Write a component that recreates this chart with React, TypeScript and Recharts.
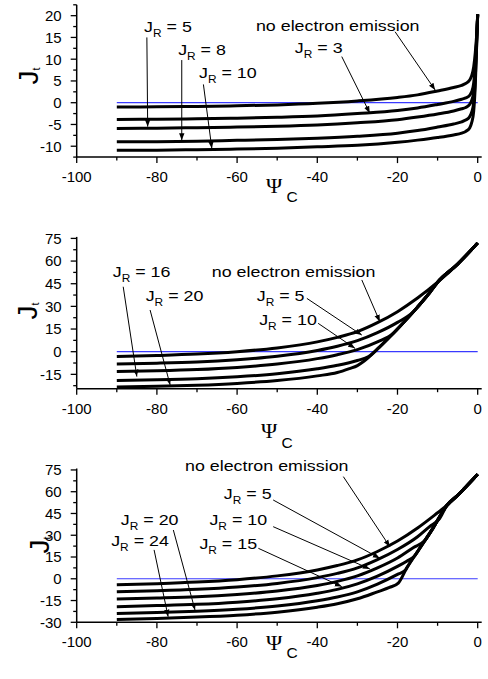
import React from 'react';
import { LineChart, Line, XAxis, YAxis, ReferenceLine } from 'recharts';

type Pt = [number, number];

const SANS = '"Liberation Sans", Arial, sans-serif';
const SERIF = '"Liberation Serif", "Times New Roman", serif';

// ---------- shared x axis ----------
const xDomain: [number, number] = [-100, 1];
const xMajor = [-100, -80, -60, -40, -20, 0];
const xMinor = [-90, -70, -50, -30, -10];
const zeroLine: Pt[] = [[-90, 0], [0, 0]];

// ---------- panel 1 ----------
const p1YMajor = [-10, -5, 0, 5, 10, 15, 20];
const p1YMinor = [-12.5, -7.5, -2.5, 2.5, 7.5, 12.5, 17.5, 22.5];
const p1None: Pt[] = [[-90, -1.0], [-80, -0.95], [-70, -0.85], [-60, -0.7], [-50, -0.5], [-40, -0.15], [-30, 0.4], [-20, 1.2], [-15, 1.8], [-10, 2.7], [-6, 3.5], [-4, 4.0], [-3, 4.4], [-2, 5.2], [-1.5, 6.2], [-1, 8.2], [-0.6, 11.5], [-0.3, 15], [0, 20.3]];
const p1R3: Pt[] = [[-90, -3.85], [-80, -3.8], [-70, -3.7], [-60, -3.55], [-50, -3.35], [-40, -3.05], [-30, -2.5], [-20, -1.8], [-15, -1.2], [-10, -0.4], [-6, 0.3], [-4, 0.8], [-3, 1.1], [-2, 1.7], [-1.5, 2.5], [-1, 4.5], [-0.6, 9], [-0.3, 14], [0, 20.3]];
const p1R5: Pt[] = [[-90, -5.9], [-80, -5.85], [-70, -5.75], [-60, -5.6], [-50, -5.4], [-40, -5.1], [-30, -4.6], [-20, -3.9], [-15, -3.3], [-10, -2.6], [-6, -1.9], [-4, -1.4], [-3, -1.1], [-2, -0.4], [-1.5, 0.5], [-1, 2.5], [-0.6, 7.5], [-0.3, 13.5], [0, 20.3]];
const p1R8: Pt[] = [[-90, -9.0], [-80, -8.95], [-70, -8.85], [-60, -8.65], [-50, -8.45], [-40, -8.15], [-30, -7.7], [-20, -7.0], [-15, -6.4], [-10, -5.6], [-6, -4.9], [-4, -4.4], [-3, -4.0], [-2, -3.2], [-1.5, -2.2], [-1, 0], [-0.6, 5.5], [-0.3, 12.5], [0, 20.3]];
const p1R10: Pt[] = [[-90, -10.95], [-80, -10.9], [-70, -10.8], [-60, -10.65], [-50, -10.45], [-40, -10.15], [-30, -9.8], [-20, -9.1], [-15, -8.6], [-10, -8.0], [-6, -7.4], [-4, -7.0], [-3, -6.6], [-2, -5.8], [-1.5, -4.6], [-1, -2], [-0.6, 4], [-0.3, 12], [0, 20.3]];

// ---------- panel 2 ----------
const p2YMajor = [-15, 0, 15, 30, 45, 60, 75];
const p2YMinor = [-22.5, -7.5, 7.5, 22.5, 37.5, 52.5, 67.5];
const p2None: Pt[] = [[-90, -3.1], [-80, -2.5], [-70, -1.6], [-60, 0], [-50, 2.5], [-40, 6.5], [-35, 9.5], [-30, 13.3], [-25, 19.2], [-20, 26.5], [-15, 35.5], [-10, 46], [-5, 58], [0, 72]];
const p2R5: Pt[] = [[-90, -8.1], [-80, -7.6], [-70, -6.8], [-60, -5.3], [-50, -3], [-40, 0.8], [-35, 3.6], [-30, 7.3], [-25, 12.6], [-20, 19.4], [-16, 26.6], [-15, 29.5], [-12, 39], [-10, 46], [-5, 58], [0, 72]];
const p2R10: Pt[] = [[-90, -13.1], [-80, -12.6], [-70, -11.8], [-60, -10.4], [-50, -8.2], [-40, -4.6], [-35, -2], [-30, 1.4], [-25, 6.5], [-21, 12.3], [-20, 15], [-15, 29.5], [-12, 39], [-10, 46], [-5, 58], [0, 72]];
const p2R16: Pt[] = [[-90, -19], [-80, -18.6], [-70, -17.9], [-60, -16.6], [-50, -14.6], [-40, -11.3], [-35, -9], [-30, -5.8], [-27.2, -3.2], [-24.5, 3], [-20, 15], [-15, 29.5], [-12, 39], [-10, 46], [-5, 58], [0, 72]];
const p2R20: Pt[] = [[-90, -23.3], [-80, -22.9], [-70, -22.2], [-60, -21], [-50, -19.1], [-40, -16], [-35, -13.8], [-32, -11.2], [-30, -9.2], [-28.3, -6.2], [-24.5, 3], [-20, 15], [-15, 29.5], [-12, 39], [-10, 46], [-5, 58], [0, 72]];

// ---------- panel 3 ----------
const p3YMajor = [-30, -15, 0, 15, 30, 45, 60, 75];
const p3YMinor = [-22.5, -7.5, 7.5, 22.5, 37.5, 52.5, 67.5];
const p3None: Pt[] = [[-90, -4.2], [-80, -3.4], [-70, -2.3], [-60, -0.6], [-50, 2], [-40, 6.1], [-35, 9.1], [-30, 13], [-25, 18.8], [-20, 26], [-15, 35], [-10, 45.5], [-7.7, 50.5], [-5, 57.5], [0, 72]];
const p3R5: Pt[] = [[-90, -9], [-80, -8.3], [-70, -7.3], [-60, -5.7], [-50, -3.2], [-40, 0.8], [-35, 3.7], [-30, 7.5], [-25, 13.2], [-20, 20.2], [-15, 29], [-12, 36], [-9.5, 41.5], [-7.7, 50.5], [-5, 57.5], [0, 72]];
const p3R10: Pt[] = [[-90, -14], [-80, -13.3], [-70, -12.4], [-60, -10.8], [-50, -8.4], [-40, -4.6], [-35, -1.8], [-30, 2], [-25, 7.5], [-20, 14.3], [-16, 21.5], [-13.2, 26.3], [-11.1, 35.1], [-7.7, 50.5], [-5, 57.5], [0, 72]];
const p3R15: Pt[] = [[-90, -19.2], [-80, -18.5], [-70, -17.6], [-60, -16.1], [-50, -13.8], [-40, -10], [-35, -7.3], [-30, -3.5], [-25, 1.8], [-20, 8.5], [-17.7, 12.1], [-15.7, 15.8], [-14.4, 21.2], [-11.1, 35.1], [-7.7, 50.5], [-5, 57.5], [0, 72]];
const p3R20: Pt[] = [[-90, -24], [-80, -23.3], [-70, -22.4], [-60, -21], [-50, -18.8], [-40, -15.2], [-35, -12.6], [-30, -9], [-25, -3.7], [-20, 3], [-18, 6], [-17.7, 7.4], [-14.4, 21.2], [-11.1, 35.1], [-7.7, 50.5], [-5, 57.5], [0, 72]];
const p3R24: Pt[] = [[-90, -28], [-80, -27.3], [-70, -26.4], [-60, -25.1], [-50, -23], [-40, -19.6], [-35, -17.2], [-30, -13.8], [-25, -9], [-22, -6], [-19.8, -3], [-17.7, 7.4], [-14.4, 21.2], [-11.1, 35.1], [-7.7, 50.5], [-5, 57.5], [0, 72]];

// ---------- annotations ----------
type Ann = { main: string; sub?: string; rest?: string; at: Pt };
type Arrow = { from: Pt; to: Pt };

const p1Anns: Ann[] = [
  { main: 'J', sub: 'R', rest: ' = 5', at: [-83.2, 16.25] },
  { main: 'J', sub: 'R', rest: ' = 8', at: [-74.7, 10.97] },
  { main: 'J', sub: 'R', rest: ' = 10', at: [-69.5, 5.6] },
  { main: 'no electron emission', at: [-55.3, 16.55] },
  { main: 'J', sub: 'R', rest: ' = 3', at: [-45.6, 11.36] },
];
const p1Arrows: Arrow[] = [
  { from: [-82.5, 15.0], to: [-82.3, -5.5] },
  { from: [-73.8, 9.8], to: [-73.8, -8.6] },
  { from: [-68.4, 4.2], to: [-66.3, -10.5] },
  { from: [-20.6, 16.3], to: [-10.6, 2.9] },
  { from: [-33.9, 10.6], to: [-26.9, -2.4] },
];

const p2Anns: Ann[] = [
  { main: 'J', sub: 'R', rest: ' = 16', at: [-91.0, 49.6] },
  { main: 'J', sub: 'R', rest: ' = 20', at: [-82.8, 33.8] },
  { main: 'no electron emission', at: [-66.3, 49.6] },
  { main: 'J', sub: 'R', rest: ' = 5', at: [-55.1, 33.8] },
  { main: 'J', sub: 'R', rest: ' = 10', at: [-54.5, 17.7] },
];
const p2Arrows: Arrow[] = [
  { from: [-88.4, 43], to: [-85.0, -16.5] },
  { from: [-81.7, 27.6], to: [-76.7, -22] },
  { from: [-28.9, 47.5], to: [-24.4, 19.9] },
  { from: [-42.6, 35.3], to: [-28.9, 11] },
  { from: [-39.8, 18.8], to: [-30.6, 2.2] },
];

const p3Anns: Ann[] = [
  { main: 'no electron emission', at: [-73.0, 74.5] },
  { main: 'J', sub: 'R', rest: ' = 5', at: [-63.3, 55.2] },
  { main: 'J', sub: 'R', rest: ' = 20', at: [-89.0, 37.0] },
  { main: 'J', sub: 'R', rest: ' = 10', at: [-66.9, 37.0] },
  { main: 'J', sub: 'R', rest: ' = 24', at: [-91.4, 22.9] },
  { main: 'J', sub: 'R', rest: ' = 15', at: [-69.4, 20.6] },
];
const p3Arrows: Arrow[] = [
  { from: [-33.5, 70.4], to: [-21.9, 22.1] },
  { from: [-51, 54.3], to: [-24.4, 14.1] },
  { from: [-51, 35.9], to: [-26.9, 6.8] },
  { from: [-54.7, 21], to: [-33.9, -5.4] },
  { from: [-75.9, 33.6], to: [-70.5, -21.5] },
  { from: [-80.7, 19.9], to: [-77.2, -26.1] },
];

const toData = (pts: Pt[]) => pts.map(([x, y]) => ({ x, y }));

// layout constants
const CHART_W = 488;
const Y_AXIS_W = 76.7;
const RIGHT = 6.3;
const X_AXIS_H = 30;

const XTick = (p: any) => {
  const v = p.payload.value;
  const major = xMajor.includes(v);
  return (
    <g>
      <line x1={p.x} x2={p.x} y1={p.y} y2={p.y + (major ? 6 : 3.5)} stroke="#000" strokeWidth={1.3} />
      {major && (
        <text x={p.x} y={p.y + 25} textAnchor="middle" fontSize={15} fontFamily={SANS} fill="#000">
          {v}
        </text>
      )}
    </g>
  );
};

const YTick = (p: any) => {
  const v = p.payload.value;
  const major = (p.majors as number[]).includes(v);
  return (
    <g>
      <line x1={p.x} x2={p.x - (major ? 6 : 3.5)} y1={p.y} y2={p.y} stroke="#000" strokeWidth={1.3} />
      {major && (
        <text x={p.x - 15} y={p.y + 5.4} textAnchor="end" fontSize={15} fontFamily={SANS} fill="#000">
          {v}
        </text>
      )}
    </g>
  );
};

const AnnText = ({ x, y, ann }: { x: number; y: number; ann: Ann }) => (
  <text
    transform={`translate(${x},${y}) scale(1.19,1)`}
    x={0}
    y={0}
    fontSize={15}
    fontFamily={SANS}
    fill="#000"
    style={{ whiteSpace: 'pre' }}
  >
    <tspan>{ann.main}</tspan>
    {ann.sub && (
      <tspan fontSize={10} dy={5}>
        {ann.sub}
      </tspan>
    )}
    {ann.rest && <tspan dy={-5}>{ann.rest}</tspan>}
  </text>
);

const ArrowShape = (p: any) => (
  <line x1={p.x1} y1={p.y1} x2={p.x2} y2={p.y2} stroke="#000" strokeWidth={1} markerEnd="url(#arrowHead)" />
);

const PsiLabel = ({ px, py, cdx, cdy }: any) => (
  <g>
    <text x={px} y={py} fontSize={22} fontFamily={SERIF} fill="#000">
      Ψ
    </text>
    <text x={px + cdx} y={py + cdy} fontSize={15.5} fontFamily={SANS} fill="#000">
      C
    </text>
  </g>
);

const JLabel = ({ bx, cy }: any) => (
  <text
    x={bx}
    y={cy}
    transform={`rotate(-90 ${bx} ${cy})`}
    textAnchor="middle"
    fontFamily={SANS}
    fill="#000"
  >
    <tspan fontSize={28}>J</tspan>
    <tspan fontSize={11} dy={2}>
      t
    </tspan>
  </text>
);

type PanelProps = {
  height: number;
  marginTop: number;
  marginBottom: number;
  yDomain: [number, number];
  yMajor: number[];
  yMinor: number[];
  curves: Pt[][];
  anns: Ann[];
  arrows: Arrow[];
  psi: [number, number, number, number];
  jl: [number, number];
};

function Panel(props: PanelProps) {
  const { height, marginTop, marginBottom, yDomain, yMajor, yMinor, curves, anns, arrows, psi, jl } = props;
  // linear placement of annotation text (same mapping as the chart's plot area)
  const plotW = CHART_W - Y_AXIS_W - RIGHT;
  const plotH = height - marginTop - marginBottom - X_AXIS_H;
  const toPx = (x: number) => Y_AXIS_W + ((x - xDomain[0]) / (xDomain[1] - xDomain[0])) * plotW;
  const toPy = (y: number) => marginTop + ((yDomain[1] - y) / (yDomain[1] - yDomain[0])) * plotH;
  return (
    <div style={{ position: 'relative', width: CHART_W, height }}>
      <LineChart
        width={CHART_W}
        height={height}
        margin={{ top: marginTop, right: RIGHT, bottom: marginBottom, left: 0 }}
      >
        <XAxis
          type="number"
          dataKey="x"
          domain={xDomain}
          allowDataOverflow
          ticks={[...xMajor, ...xMinor].sort((a, b) => a - b)}
          interval={0}
          tickSize={0}
          tickMargin={0}
          tickLine={false}
          tick={<XTick />}
          axisLine={{ stroke: '#000', strokeWidth: 1.5 }}
          height={X_AXIS_H}
          label={<PsiLabel px={psi[0]} py={psi[1]} cdx={psi[2]} cdy={psi[3]} />}
        />
        <YAxis
          type="number"
          dataKey="y"
          domain={yDomain}
          allowDataOverflow
          ticks={[...yMajor, ...yMinor].sort((a, b) => a - b)}
          interval={0}
          tickSize={0}
          tickMargin={0}
          tickLine={false}
          tick={<YTick majors={yMajor} />}
          axisLine={{ stroke: '#000', strokeWidth: 1.5 }}
          width={Y_AXIS_W}
          label={<JLabel bx={jl[0]} cy={jl[1]} />}
        />
        <Line
          data={toData(zeroLine)}
          dataKey="y"
          type="linear"
          stroke="#3a3aff"
          strokeWidth={1.2}
          dot={false}
          isAnimationActive={false}
        />
        {curves.map((c, i) => (
          <Line
            key={i}
            data={toData(c)}
            dataKey="y"
            type="monotone"
            stroke="#000"
            strokeWidth={3}
            strokeLinejoin="round"
            dot={false}
            isAnimationActive={false}
          />
        ))}
        {arrows.map((a, i) => (
          <ReferenceLine
            key={'a' + i}
            segment={[
              { x: a.from[0], y: a.from[1] },
              { x: a.to[0], y: a.to[1] },
            ]}
            ifOverflow="visible"
            shape={ArrowShape}
          />
        ))}
      </LineChart>
      <svg
        width={CHART_W}
        height={height}
        style={{ position: 'absolute', left: 0, top: 0, pointerEvents: 'none', overflow: 'visible' }}
      >
        {anns.map((a, i) => (
          <AnnText key={i} x={toPx(a.at[0])} y={toPy(a.at[1])} ann={a} />
        ))}
      </svg>
    </div>
  );
}

export default function App() {
  return (
    <div style={{ position: 'absolute', left: 0, top: 0, width: 488, height: 679, background: '#fff' }}>
      <svg width={0} height={0} style={{ position: 'absolute' }}>
        <defs>
          <marker
            id="arrowHead"
            markerUnits="userSpaceOnUse"
            markerWidth={8}
            markerHeight={6}
            refX={7}
            refY={3}
            orient="auto"
          >
            <path d="M0,0.3 L7,3 L0,5.7 z" fill="#000" />
          </marker>
        </defs>
      </svg>
      <div style={{ position: 'absolute', left: 0, top: 0 }}>
        <Panel
          height={225}
          marginTop={4.8}
          marginBottom={37.9}
          yDomain={[-12.5, 22.5]}
          yMajor={p1YMajor}
          yMinor={p1YMinor}
          curves={[p1None, p1R3, p1R5, p1R8, p1R10]}
          anns={p1Anns}
          arrows={p1Arrows}
          psi={[266, 193.3, 20.5, 8.5]}
          jl={[38.3, 76]}
        />
      </div>
      <div style={{ position: 'absolute', left: 0, top: 225 }}>
        <Panel
          height={225}
          marginTop={11.9}
          marginBottom={31.3}
          yDomain={[-24.5, 76]}
          yMajor={p2YMajor}
          yMinor={p2YMinor}
          curves={[p2None, p2R5, p2R10, p2R16, p2R20]}
          anns={p2Anns}
          arrows={p2Arrows}
          psi={[261, 213.3, 20.5, 10]}
          jl={[37, 86]}
        />
      </div>
      <div style={{ position: 'absolute', left: 0, top: 450 }}>
        <Panel
          height={229}
          marginTop={18.5}
          marginBottom={26.7}
          yDomain={[-30, 76]}
          yMajor={p3YMajor}
          yMinor={p3YMinor}
          curves={[p3None, p3R5, p3R10, p3R15, p3R20, p3R24]}
          anns={p3Anns}
          arrows={p3Arrows}
          psi={[266, 200, 20.5, 8.3]}
          jl={[49, 95]}
        />
      </div>
    </div>
  );
}
